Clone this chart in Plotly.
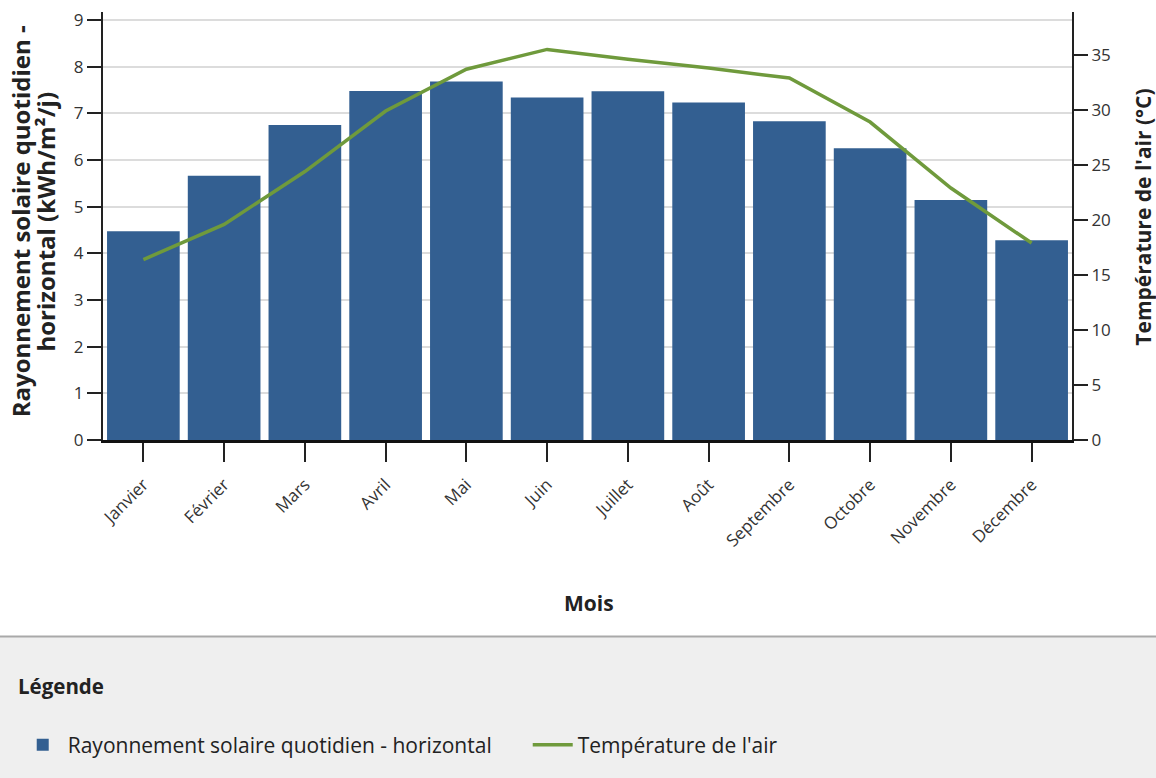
import plotly.graph_objects as go

# Monthly climate data
mois = ["Janvier", "Février", "Mars", "Avril", "Mai", "Juin", "Juillet",
        "Août", "Septembre", "Octobre", "Novembre", "Décembre"]
rayonnement = [4.47, 5.66, 6.75, 7.48, 7.68, 7.34, 7.47, 7.23, 6.83, 6.25, 5.14, 4.28]
temperature = [16.4, 19.6, 24.4, 29.9, 33.7, 35.5, 34.6, 33.8, 32.9, 28.9, 22.9, 17.9]

left_ticks = list(range(0, 10))
right_ticks = list(range(0, 40, 5))

FONT = "Open Sans"
BAR_COLOR = "#335f91"
LINE_COLOR = "#6f9a3c"
TEXT = "#222"

fig = go.Figure()
fig.add_trace(go.Bar(
    x=mois, y=rayonnement,
    name="Rayonnement solaire quotidien - horizontal",
    marker=dict(color=BAR_COLOR, line=dict(width=0)),
    yaxis="y",
))
fig.add_trace(go.Scatter(
    x=mois, y=temperature,
    name="Température de l'air",
    mode="lines",
    line=dict(color=LINE_COLOR, width=3.5),
    yaxis="y2",
))

bold = dict(family=FONT, color=TEXT, weight="bold")

fig.update_layout(
    width=1156, height=778,
    margin=dict(l=103, r=84, t=8, b=338),
    paper_bgcolor="white",
    plot_bgcolor="white",
    bargap=0.1,
    font=dict(family=FONT, size=17, color=TEXT),
    xaxis=dict(
        type="category",
        range=[-0.5, 11.5],
        showline=True, linecolor="#111", linewidth=3,
        ticks="outside", ticklen=19, tickwidth=2, tickcolor="#222",
        tickangle=-45,
        ticklabelstandoff=6,
        tickfont=dict(size=17, color="#333"),
        showgrid=False,
    ),
    yaxis=dict(
        range=[0, 9.17],
        tickvals=left_ticks,
        showline=True, linecolor="#222", linewidth=2,
        ticks="outside", ticklen=14, tickwidth=2, tickcolor="#222",
        tickfont=dict(size=17, color="#333"),
        showgrid=True, gridcolor="#dcdcdc", gridwidth=2,
        zeroline=False,
    ),
    yaxis2=dict(
        range=[0, 38.9],
        tickvals=right_ticks,
        overlaying="y", side="right",
        showline=True, linecolor="#222", linewidth=2,
        ticks="outside", ticklen=14, tickwidth=2, tickcolor="#222",
        tickfont=dict(size=17, color="#333"),
        showgrid=False, zeroline=False,
    ),
    legend=dict(
        orientation="h",
        x=-0.088, xanchor="left",
        y=-0.713, yanchor="middle",
        font=dict(size=21, color=TEXT),
        bgcolor="rgba(0,0,0,0)",
        itemwidth=40,
        entrywidth=455,
    ),
    shapes=[
        # legend panel background
        dict(type="rect", xref="paper", yref="paper",
             x0=-0.11, x1=1.09, y0=-0.459, y1=-0.79,
             fillcolor="#efefef", line=dict(width=0), layer="below"),
        dict(type="line", xref="paper", yref="paper",
             x0=-0.11, x1=1.09, y0=-0.459, y1=-0.459,
             line=dict(color="#a9a9a9", width=2)),
    ],
    annotations=[
        dict(text="Rayonnement solaire quotidien -",
             xref="paper", yref="paper", x=-0.085, y=0.51,
             xanchor="center", yanchor="middle",
             textangle=-90, showarrow=False, font=dict(size=24, **bold)),
        dict(text="horizontal (kWh/m²/j)",
             xref="paper", yref="paper", x=-0.059, y=0.51,
             xanchor="center", yanchor="middle",
             textangle=-90, showarrow=False, font=dict(size=24, **bold)),
        dict(text="Température de l'air (°C)",
             xref="paper", yref="paper", x=1.0735, y=0.52,
             xanchor="center", yanchor="middle",
             textangle=-90, showarrow=False, font=dict(size=21, **bold)),
        dict(text="Mois", xref="paper", yref="paper", x=0.502, y=-0.382,
             xanchor="center", yanchor="middle",
             showarrow=False, font=dict(size=21, **bold)),
        dict(text="Légende", xref="paper", yref="paper", x=-0.09, y=-0.574,
             xanchor="left", yanchor="middle",
             showarrow=False, font=dict(size=20.5, **bold)),
    ],
)

fig.write_html("out.html")
